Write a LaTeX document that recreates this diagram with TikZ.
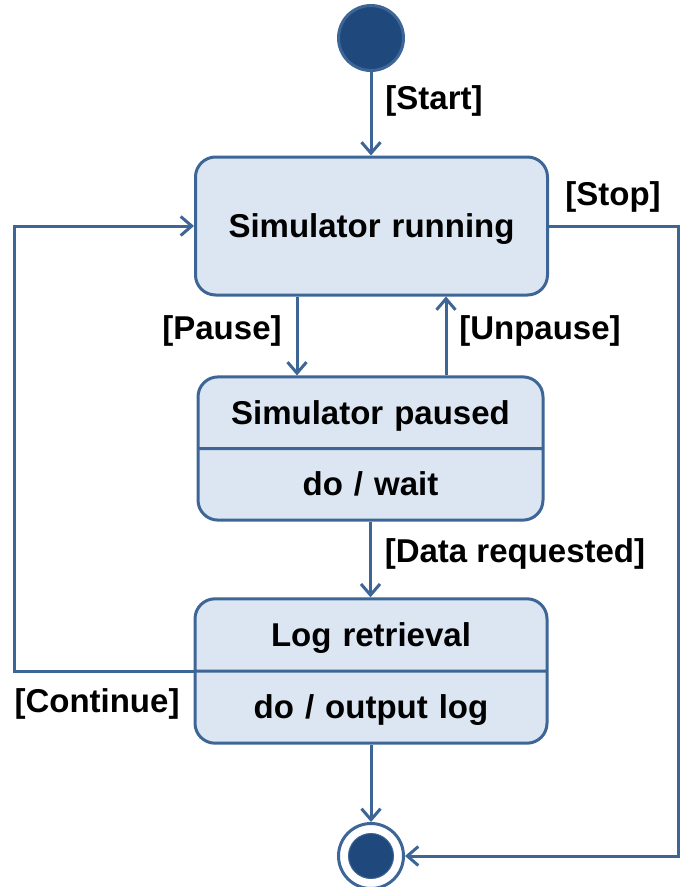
\documentclass[tikz,border=0pt]{standalone}
\usepackage{fontspec}
\setmainfont{Liberation Sans}
\usetikzlibrary{arrows.meta,positioning}
\usetikzlibrary{shapes.multipart}
\definecolor{umlline}{RGB}{61,101,150}
\definecolor{umldark}{RGB}{31,73,125}
\definecolor{umlfill}{RGB}{220,230,242}
\newcommand\partstrut{\rule[-8.5pt]{0pt}{40pt}}

\begin{document}
\begin{tikzpicture}[x=1pt,y=-1pt,line width=3pt,
        font=\fontsize{33}{39}\selectfont\bfseries,
        state/.style={draw=umlline,fill=umlfill,rounded corners=20pt,
            text width=320pt,align=center,inner xsep=16pt},
        splitstate/.style={state,rectangle split,rectangle split parts=2,inner ysep=14.3pt},
        trans/.style={draw=umlline,-{Straight Barb[length=11pt,width=19pt]}},
        guard/.style={inner sep=0pt}]%
        \useasboundingbox (0,0) rectangle (680,887); %%
        % start / end
        \node[circle,draw=umlline,fill=umldark,minimum size=65pt,inner sep=0] (init) at (371,38) {}; %%
        \node[circle,draw=umlline,fill=white,minimum size=65pt,inner sep=0] (final) at (371,856) {}; %%
        \node[circle,draw=umlline,line width=1pt,fill=umldark,minimum size=45pt,inner sep=0] (finaldot) at (final) {}; %%
        % states
        \node[state,minimum height=138pt] (run) at (371.5,226) {\partstrut Simulator running}; %%
        \node[splitstate,text width=313pt] (paused) at (370.5,448.5)
            {\partstrut Simulator paused\nodepart{two}\partstrut do / wait}; %%
        \node[splitstate,inner ysep=14.6pt] (log) at (371,671)
            {\partstrut Log retrieval\nodepart{two}\partstrut do / output log}; %%
        % guards
        \node[guard] (gstart) at (434,101) {[Start]}; %%
        \node[guard] (gstop) at (613,197) {[Stop]}; %%
        \node[guard] (gpause) at (222,331) {[Pause]}; %%
        \node[guard] (gunpause) at (540,331) {[Unpause]}; %%
        \node[guard] (gdata) at (515,554) {[Data requested]}; %%
        \node[guard] (gcont) at (97,704) {[Continue]}; %%
        % helper columns
        \coordinate (pausex) at (297,0); %%
        \coordinate (unpausex) at (446,0); %%
        \coordinate (stopx) at (678,0); %%
        \coordinate (contx) at (14,0); %%
        % transitions
        \draw[trans] (init) -- (init |- run.north); %%
        \draw[trans] (run.south -| pausex) -- (paused.north -| pausex); %%
        \draw[trans] (paused.north -| unpausex) -- (run.south -| unpausex); %%
        \draw[trans] (paused.south) -- (paused.south |- log.north); %%
        \draw[trans] (log.south) -- (log.south |- final.north); %%
        \draw[trans] (run.east) -- (run.east -| stopx) -- (stopx |- final) -- (final.east); %%
        \draw[trans] (log.west) -- (log.west -| contx) -- (contx |- run.west) -- (run.west); %%
\end{tikzpicture}
\end{document}
